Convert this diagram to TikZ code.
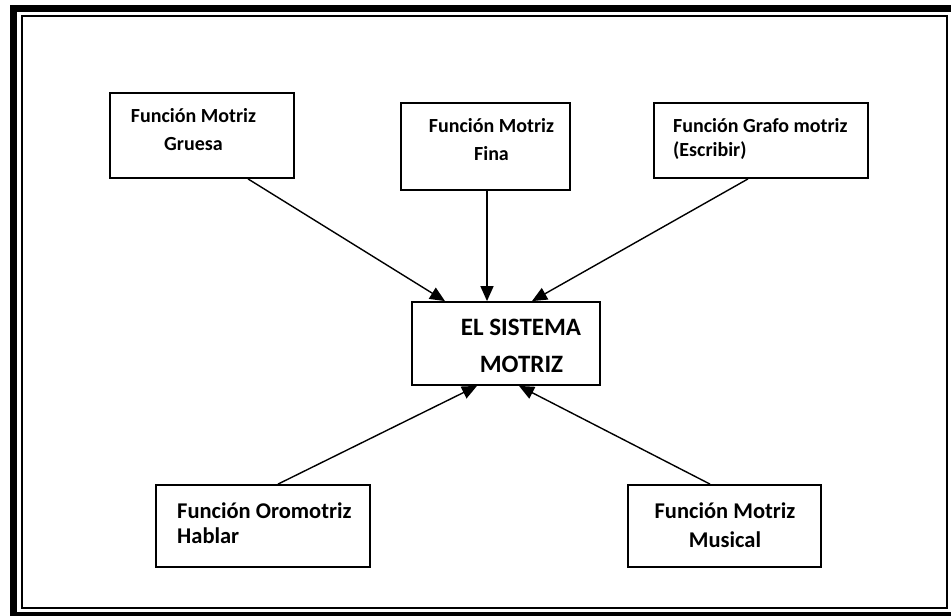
\documentclass[tikz,border=0pt]{standalone}
\usepackage{fontspec}
\setmainfont{Carlito}
\usetikzlibrary{arrows.meta}
\definecolor{framecolor}{RGB}{0,0,0}

\begin{document}
\begin{tikzpicture}[x=1pt, y=-1pt,
      box/.style={draw, line width=1.8pt, inner sep=0pt},
      txt/.style={inner sep=0pt, font=\bfseries},
      link/.style={line width=1.4pt, -{Triangle[length=15pt,width=13pt]}}]
      \useasboundingbox (0,0) rectangle (951,616);
      % page frame
      \begin{scope}
            \clip (0,0) rectangle (951,616);
            \draw[framecolor, line width=7pt] (13.5,8) rectangle (955,615);
            \draw[framecolor, line width=1.8pt] (22,16) rectangle (947,608);
      \end{scope}

      % boxes
      \node[box, minimum width=184pt, minimum height=85pt] (gruesa) at (202,135.5) {};
      \node[box, minimum width=169pt, minimum height=87pt] (fina) at (485.5,146.5) {};
      \node[box, minimum width=214pt, minimum height=75pt] (grafo) at (761,140.5) {};
      \node[box, minimum width=188pt, minimum height=83pt] (sistema) at (506,343.5) {};
      \node[box, minimum width=214pt, minimum height=82pt] (hablar) at (263,526) {};
      \node[box, minimum width=193pt, minimum height=82pt] (musical) at (724.5,526) {};

      % texts
      \node[txt, anchor=base, font=\bfseries\fontsize{20}{28}\selectfont] (gruesa-a) at (193.5,122) {Función Motriz};
      \node[txt, anchor=base, font=\bfseries\fontsize{20}{28}\selectfont] (gruesa-b) at (193.5,150) {Gruesa};
      \node[txt, anchor=base, font=\bfseries\fontsize{20}{28}\selectfont] (fina-a) at (491.5,132) {Función Motriz};
      \node[txt, anchor=base, font=\bfseries\fontsize{20}{28}\selectfont] (fina-b) at (491.5,160) {Fina};
      \node[txt, anchor=base west, font=\bfseries\fontsize{20}{28}\selectfont] (grafo-a) at (673,132) {Función Grafo motriz};
      \node[txt, anchor=base west, font=\bfseries\fontsize{20}{28}\selectfont] (grafo-b) at (673,156) {(Escribir)};
      \node[txt, anchor=base, font=\bfseries\fontsize{25}{30}\selectfont] (sistema-a) at (521,335) {EL SISTEMA};
      \node[txt, anchor=base, font=\bfseries\fontsize{25}{30}\selectfont] (sistema-b) at (521.5,372) {MOTRIZ};
      \node[txt, anchor=base west, font=\bfseries\fontsize{22.5}{27}\selectfont] (hablar-a) at (177,518) {Función Oromotriz};
      \node[txt, anchor=base west, font=\bfseries\fontsize{22.5}{27}\selectfont] (hablar-b) at (177,543) {Hablar};
      \node[txt, anchor=base, font=\bfseries\fontsize{22.5}{27}\selectfont] (musical-a) at (725,518) {Función Motriz};
      \node[txt, anchor=base, font=\bfseries\fontsize{22.5}{27}\selectfont] (musical-b) at (725,547) {Musical};

      % arrows
      \draw[link] ([xshift=46pt]gruesa.south) -- ([xshift=-61pt]sistema.north);
      \draw[link] ([xshift=1.5pt]fina.south) -- ([xshift=-19pt]sistema.north);
      \draw[link] ([xshift=-13pt]grafo.south) -- ([xshift=26pt]sistema.north);
      \draw[link] ([xshift=15pt]hablar.north) -- ([xshift=-29pt]sistema.south);
      \draw[link] ([xshift=-14.5pt]musical.north) -- ([xshift=13pt]sistema.south);
\end{tikzpicture}
\end{document}
